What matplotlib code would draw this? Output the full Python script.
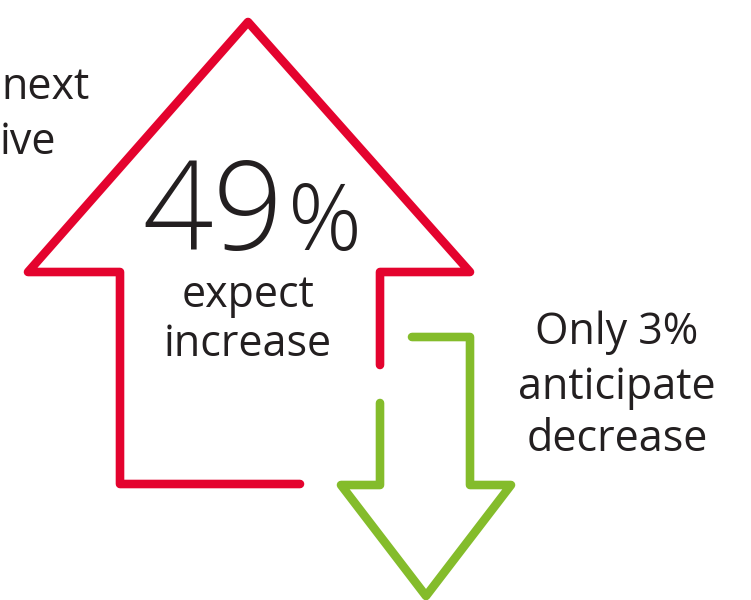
import matplotlib
matplotlib.use('Agg')
import matplotlib.pyplot as plt

# arrow outlines (pixel coords, y down)
red_x = [380, 380, 470, 248, 28, 120, 120, 300]
red_y = [365, 272, 272, 22, 272, 272, 484, 484]
green_x = [412, 470, 470, 511, 426, 341, 380, 380]
green_y = [337, 337, 485, 485, 596, 485, 485, 403]

RED = '#e4032e'
GREEN = '#84bc2b'
TEXT = '#231f20'

fig = plt.figure(figsize=(7.51, 6.0), dpi=100)
ax = fig.add_axes([0, 0, 1, 1])
ax.set_xlim(0, 751)
ax.set_ylim(600, 0)
ax.axis('off')

ax.plot(red_x, red_y, color=RED, lw=6.2, solid_capstyle='round', solid_joinstyle='round')
ax.plot(green_x, green_y, color=GREEN, lw=6.2, solid_capstyle='round', solid_joinstyle='round')

font = 'Open Sans'
# big number, % sign smaller as in the original
ax.text(284, 250, '49', fontsize=89, fontfamily=font, fontweight='light',
        color=TEXT, ha='right', va='baseline')
ax.text(288, 250, '%', fontsize=66, fontfamily=font, fontweight='light',
        color=TEXT, ha='left', va='baseline')

fs = 31
ax.text(248, 296, 'expect', fontsize=fs, fontfamily=font, color=TEXT, ha='center', va='center')
ax.text(248, 345, 'increase', fontsize=fs, fontfamily=font, color=TEXT, ha='center', va='center')

ax.text(617, 333, 'Only 3%', fontsize=fs, fontfamily=font, color=TEXT, ha='center', va='center')
ax.text(617, 388, 'anticipate', fontsize=fs, fontfamily=font, color=TEXT, ha='center', va='center')
ax.text(617, 440, 'decrease', fontsize=fs, fontfamily=font, color=TEXT, ha='center', va='center')

# tail of a label cut off by the left edge in the original
ax.text(90, 88, 'next', fontsize=fs, fontfamily=font, color=TEXT, ha='right', va='center')
ax.text(56, 143, 'ive', fontsize=fs, fontfamily=font, color=TEXT, ha='right', va='center')

fig.savefig('out.png', dpi=100)
